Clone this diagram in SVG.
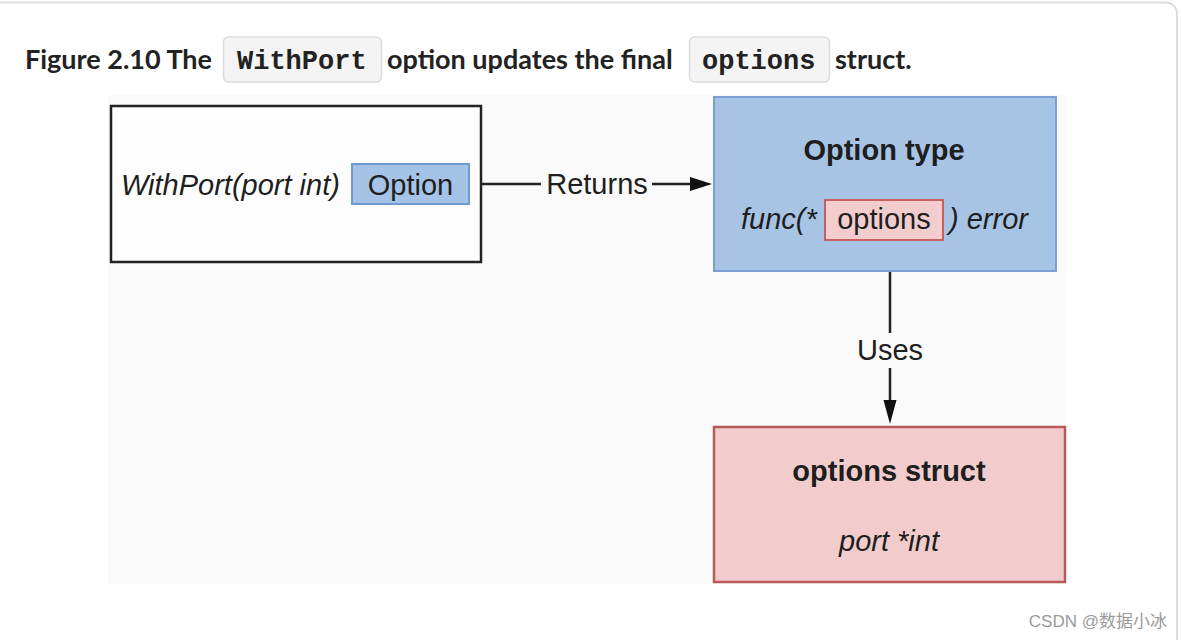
<svg xmlns="http://www.w3.org/2000/svg" width="1182" height="640" viewBox="0 0 1182 640">
<style>
.cap{font-family:Lato,"Liberation Sans",sans-serif;font-weight:700;font-size:27px;fill:#222}
.code{font-family:"Liberation Mono","DejaVu Sans Mono",monospace;font-weight:700;font-size:27px;fill:#222}
.codebox{fill:#f4f4f4;stroke:#dcdcdc;stroke-width:1.5}
.t{font-family:"Liberation Sans",Arial,sans-serif;font-size:29px;fill:#1e1e1e}
.i{font-style:italic}
.b{font-weight:700}
.line{stroke:#222;stroke-width:2.5;fill:none}
</style>
<rect width="1182" height="640" fill="#fff"/>
<path d="M0,2.5 H1166 a11,11 0 0 1 11,11 V640" fill="none" stroke="#dedede" stroke-width="2"/>
<g id="caption">
<text class="cap" x="25" y="69">Figure 2.10 The</text>
<rect class="codebox" x="223.5" y="37" width="158" height="45" rx="5"/>
<text class="code" x="237" y="69">WithPort</text>
<text class="cap" x="387" y="69">option updates the final</text>
<rect class="codebox" x="689.5" y="37" width="140" height="45" rx="5"/>
<text class="code" x="702" y="69">options</text>
<text class="cap" x="835" y="69">struct.</text>
</g>
<rect x="108" y="95" width="958" height="489" fill="#fafafa"/>
<g id="connectors">
<line class="line" x1="481" y1="184" x2="541" y2="184"/>
<text class="t" x="597" y="194" text-anchor="middle">Returns</text>
<line class="line" x1="652" y1="184" x2="700" y2="184"/>
<path d="M690,177 L712,184 L690,191 z" fill="#111"/>
<line class="line" x1="890" y1="272" x2="890" y2="333"/>
<text class="t" x="890" y="360" text-anchor="middle">Uses</text>
<line class="line" x1="890" y1="368" x2="890" y2="410"/>
<path d="M883.5,400 L890,424 L896.5,400 z" fill="#111"/>
</g>
<g id="withport">
<rect x="111" y="106" width="370" height="156" fill="#fdfdfd" stroke="#222" stroke-width="2.5"/>
<text class="t i" x="121" y="195">WithPort(port int)</text>
<rect x="352" y="164" width="117" height="40" fill="#a5c3e6" stroke="#6f9ad0" stroke-width="2"/>
<text class="t" x="410.5" y="195" text-anchor="middle">Option</text>
</g>
<g id="optiontype">
<rect x="714" y="97" width="342" height="174" fill="#a7c4e5" stroke="#7c9fd0" stroke-width="2"/>
<text class="t b" x="884" y="160" text-anchor="middle">Option type</text>
<text class="t i" x="741" y="229">func(*</text>
<rect x="825" y="200" width="118" height="40" fill="#f3cdcd" stroke="#c9605f" stroke-width="2"/>
<text class="t" x="884" y="229" text-anchor="middle">options</text>
<text class="t i" x="949" y="229">) error</text>
</g>
<g id="optionsstruct">
<rect x="714" y="427" width="351" height="155" fill="#f2cccc" stroke="#b85b58" stroke-width="2.5"/>
<text class="t b" x="889" y="481" text-anchor="middle">options struct</text>
<text class="t i" x="889" y="551" text-anchor="middle">port *int</text>
</g>
<text x="1167" y="627" text-anchor="end" font-family="'Liberation Sans','Noto Sans CJK SC',sans-serif" font-size="17" fill="#9a9a9a">CSDN @数据小冰</text>
</svg>
